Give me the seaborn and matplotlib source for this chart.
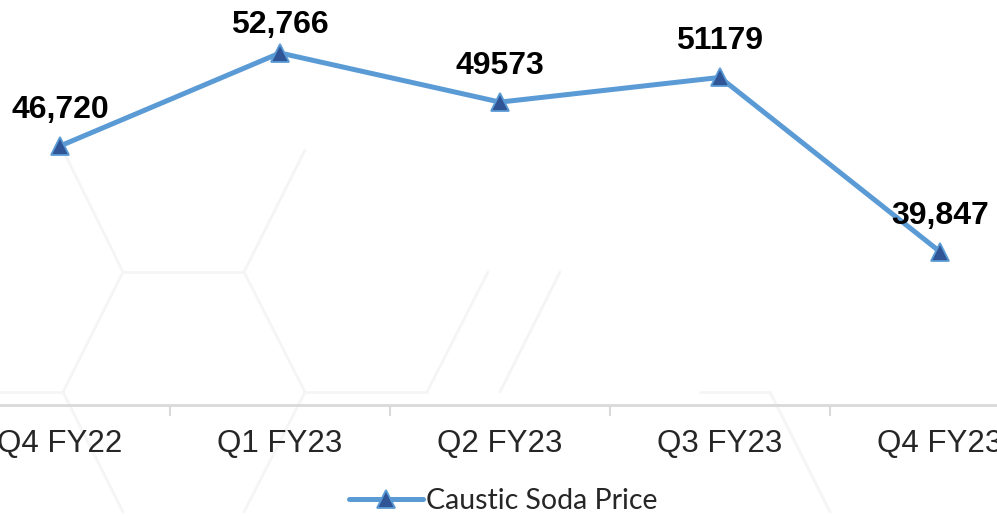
import numpy as np
import pandas as pd
import seaborn as sns
import matplotlib.pyplot as plt
from matplotlib.lines import Line2D

quarters = ["Q4 FY22", "Q1 FY23", "Q2 FY23", "Q3 FY23", "Q4 FY23"]
prices = [46720, 52766, 49573, 51179, 39847]
price_labels = ["46,720", "52,766", "49573", "51179", "39,847"]
series_name = "Caustic Soda Price"

df = pd.DataFrame({"quarter": quarters, "price": prices, "pos": range(len(quarters))})

sns.set_theme(style="white")
plt.rcParams['font.family'] = ['Liberation Sans', 'DejaVu Sans']

fig = plt.figure(figsize=(9.97, 5.16), dpi=100)
ax = fig.add_axes([0, 0.215, 1, 0.785])

# faint hexagon watermark in the background (decoration only)
hex_segs = [
    ((63, 150), (123, 272)), ((123, 272), (244, 272)), ((244, 272), (305, 150)),
    ((123, 272), (63, 392)), ((244, 272), (305, 392)), ((0, 392), (63, 392)),
    ((305, 392), (427, 392)), ((427, 392), (488, 272)), ((63, 392), (123, 512)),
    ((305, 392), (244, 512)), ((560, 272), (500, 392)),
    ((700, 392), (770, 392)), ((770, 392), (830, 512)),
]
for (x0, y0), (x1, y1) in hex_segs:
    fig.add_artist(Line2D([x0 / 997, x1 / 997], [1 - y0 / 516, 1 - y1 / 516],
                          color="#f5f5f5", lw=2, zorder=0))

sns.lineplot(data=df, x="pos", y="price", ax=ax, color="#5b9bd5", lw=3.6,
             marker="^", markersize=13, markerfacecolor="#2f5597",
             markeredgecolor="#5b9bd5", markeredgewidth=1.3, label=series_name,
             zorder=3)

offsets = [21, 13, 21, 21, 21]
for i, (p, lab) in enumerate(zip(prices, price_labels)):
    ax.annotate(lab, (i, p), xytext=(0, offsets[i]), textcoords="offset pixels",
                ha="center", va="bottom", fontsize=23, fontweight="bold", color="black",
                zorder=4)

ax.set_xlim(-60 / 220, 937 / 220)
ax.set_ylim(29880, 56210)
ax.set_yticks([])
ax.set_xticks(np.arange(len(quarters)))
ax.set_xticklabels(quarters, fontsize=22.5)
ax.set_xticks(np.arange(len(quarters) - 1) + 0.5, minor=True)
ax.tick_params(axis="x", which="major", length=0, pad=17)
ax.tick_params(axis="x", which="minor", length=8, width=1.5, color="#d9d9d9", bottom=True)
ax.set_xlabel("")
ax.set_ylabel("")
for s in ["top", "left", "right"]:
    ax.spines[s].set_visible(False)
ax.spines["bottom"].set_color("#d9d9d9")
ax.spines["bottom"].set_linewidth(2)
ax.patch.set_alpha(0)

leg = ax.legend(loc="center", bbox_to_anchor=(503 / 997, -96 / 405), frameon=False,
                prop={"family": "Lato", "size": 20.5}, handlelength=2.6, handletextpad=0.1)

fig.savefig("out.png", dpi=100)
